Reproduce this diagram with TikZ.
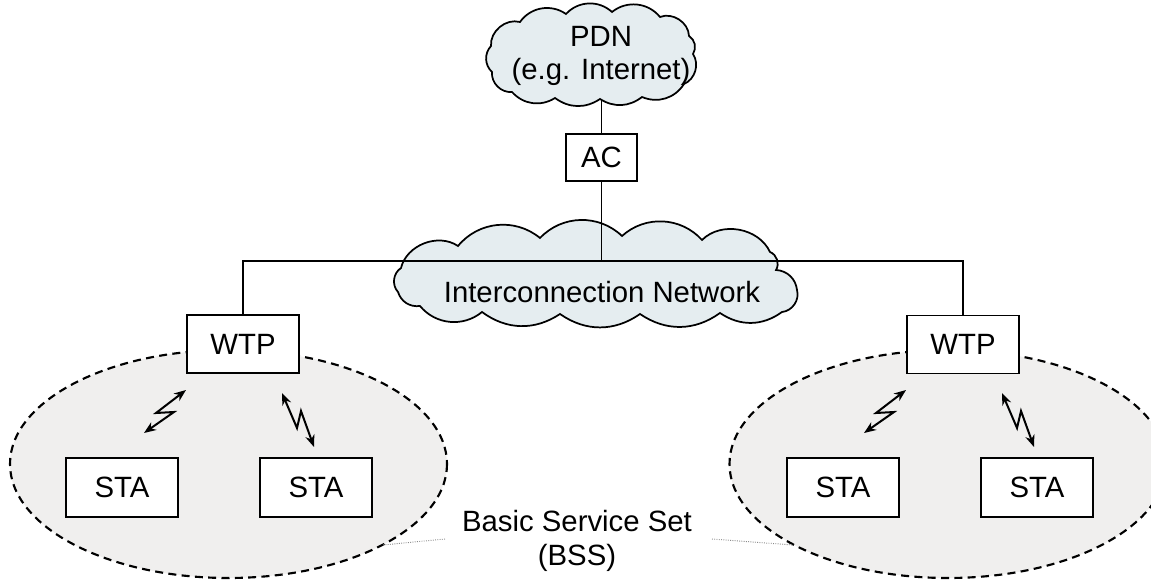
\documentclass[tikz,border=0pt]{standalone}
\usepackage{fontspec}
\setmainfont{Liberation Sans}
\usetikzlibrary{arrows.meta}
\definecolor{cloudfill}{HTML}{E5EDF0}
\definecolor{bssfill}{HTML}{F0EFEE}
\definecolor{pointergray}{HTML}{8A8A8A}
\begin{document}
\begin{tikzpicture}[x=0.75pt,y=-0.75pt,
  every node/.style={font=\fontsize{22}{25}\selectfont},
  box/.style={draw, fill=white, line width=1.3pt, inner sep=0pt},
  wtpbox/.style={box, minimum width=84pt, minimum height=43.5pt},
  stabox/.style={box, minimum width=84pt, minimum height=44.25pt},
  wire/.style={line width=1.3pt},
  buswire/.style={line width=1.8pt},
  bolt/.style={line width=1.5pt, line join=miter, {Stealth[length=9pt,width=7pt]}-{Stealth[length=9pt,width=7pt]}},
  bss/.style={draw, dash pattern=on 6pt off 4pt, line width=1.6pt, fill=bssfill},
  pointer/.style={draw=pointergray, line width=0.7pt, densely dotted},
  cloudline/.style={draw, fill=cloudfill, line width=1.3pt, line join=miter}]
\useasboundingbox (0,0) rectangle (1151,580);

% BSS ellipses
\begin{scope}
  \clip (0,0) rectangle (1151,580);
  \path[bss] (228.5,464) ellipse [x radius=218.5, y radius=114];
  \path[bss] (948,464) ellipse [x radius=218.5, y radius=114];
\end{scope}

% stations
\node[stabox] (sta1) at (122,487.5) {STA};
\node[stabox] (sta2) at (316,487.5) {STA};
\node[stabox] (sta3) at (843,487.5) {STA};
\node[stabox] (sta4) at (1037,487.5) {STA};

% WTPs
\node[wtpbox] (wtp1) at (243,344) {WTP};
\node[wtpbox] (wtp2) at (963,344.5) {WTP};

% radio links
\coordinate (l1a) at (144,433); \coordinate (l1p) at (174,412);
\coordinate (l1q) at (156,413); \coordinate (l1b) at (186,390);
\coordinate (l2a) at (282,393); \coordinate (l2p) at (297,428);
\coordinate (l2q) at (301,411); \coordinate (l2b) at (314,447);
\coordinate (r1a) at (864,433); \coordinate (r1p) at (894,412);
\coordinate (r1q) at (876,413); \coordinate (r1b) at (906,390);
\coordinate (r2a) at (1002,393); \coordinate (r2p) at (1017,428);
\coordinate (r2q) at (1021,411); \coordinate (r2b) at (1034,447);
\draw[bolt] (l1a) -- (l1p) -- (l1q) -- (l1b);
\draw[bolt] (l2a) -- (l2p) -- (l2q) -- (l2b);
\draw[bolt] (r1a) -- (r1p) -- (r1q) -- (r1b);
\draw[bolt] (r2a) -- (r2p) -- (r2q) -- (r2b);

% interconnection network cloud
\path[cloudline] (401,268)
  to[bend left=55] (458,246)
  to[bend left=45] (540,238)
  to[bend left=45] (622,236)
  to[bend left=45] (702,240)
  to[bend left=55] (770,252)
  to[bend left=50] (776,270)
  to[bend left=40] (797,290)
  to[bend left=50] (782,312)
  to[bend left=35] (720,313)
  to[bend left=35] (640,314)
  to[bend left=35] (560,314)
  to[bend left=35] (482,312)
  to[bend left=45] (420,306)
  to[bend left=40] (398,292)
  to[bend left=50] cycle;
\node (nettext) at (602,292) {Interconnection Network};

% AC and bus
\node[box, minimum width=53.25pt, minimum height=35.25pt] (ac) at (601.5,157.5) {AC};
\coordinate (busy) at (0,261);
\coordinate (bus) at (ac.south |- busy);
\draw[buswire] (wtp1.north) |- (bus) -| (wtp2.north);
\draw[wire] (ac.south) -- (bus);

% PDN cloud
\coordinate (pdnc) at (591,60);
\draw[wire] (ac.north) -- (ac.north |- pdnc);
\path[cloudline] (491,46)
  to[bend left=55] (520,22)
  to[bend left=45] (566,14)
  to[bend left=45] (612,12)
  to[bend left=45] (660,17)
  to[bend left=55] (689,36)
  to[bend left=45] (693,54)
  to[bend left=50] (684,84)
  to[bend left=40] (642,97)
  to[bend left=35] (600,99)
  to[bend left=35] (555,98)
  to[bend left=40] (512,92)
  to[bend left=50] (492,72)
  to[bend left=45] cycle;
\node[align=center] (pdntext) at (601,56) {PDN\\(e.g. Internet)};

% BSS label
\node[align=center] (bsstext) at (577,541) {Basic Service Set\\(BSS)};
\coordinate (bssl) at (383,545);
\coordinate (bssr) at (793,545);
\draw[pointer] (445,539) -- (bssl);
\draw[pointer] (712,539) -- (bssr);
\end{tikzpicture}
\end{document}
